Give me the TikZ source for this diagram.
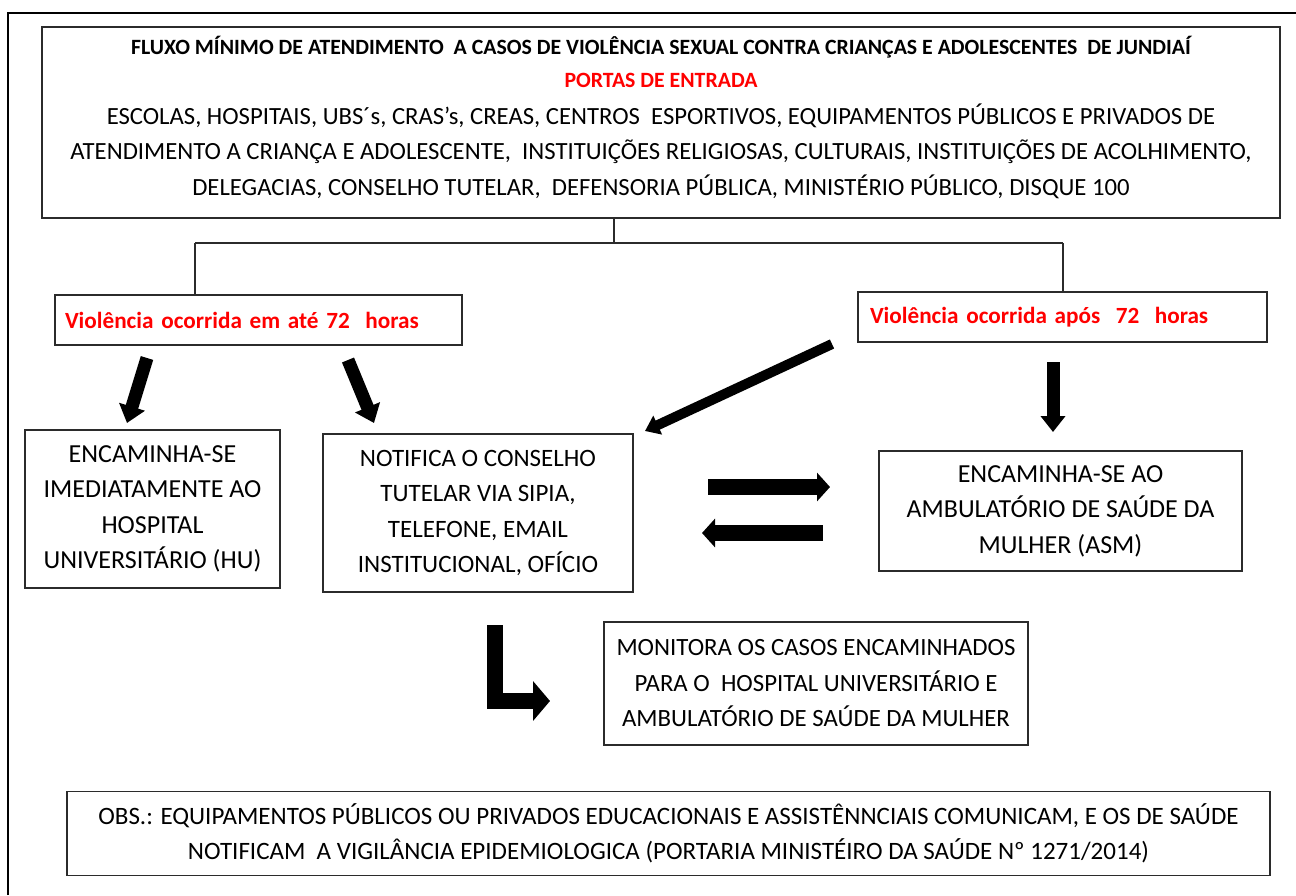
\documentclass[tikz,border=0pt]{standalone}
\usepackage{fontspec}
\setmainfont{Carlito}
\usetikzlibrary{arrows.meta}
\definecolor{boxline}{HTML}{2B2B2B}
\tikzset{
  box/.style={draw=boxline, line width=1.4pt, inner sep=0pt, align=center,
    font=\fontsize{#1}{35.5}\selectfont},
  box/.default=25,
  txt/.style={inner sep=0pt, align=center, font=\fontsize{24.7}{35.5}\selectfont},
  redbox/.style={draw=boxline, line width=1.4pt, inner ysep=0pt, align=left,
    font=\bfseries\fontsize{23.2}{26}\selectfont, text=red, minimum height=50pt},
  link/.style={draw=boxline, line width=1.2pt},
  fat/.style={line width=#1, line join=miter, line cap=butt},
}
\begin{document}
\begin{tikzpicture}[x=1pt,y=-1pt]
\useasboundingbox (0,0) rectangle (1296,895);
% outer frame
\draw[line width=2.6pt] (8,895) -- (8,13) -- (1296,13);

% top box
\node[box, minimum width=1238pt, minimum height=191pt] (top) at (661,122.5) {};
\node[txt] (toptext) at (661,117.5)
 {{\bfseries\fontsize{21.8}{22}\selectfont FLUXO MÍNIMO DE ATENDIMENTO \ A CASOS DE VIOLÊNCIA SEXUAL CONTRA CRIANÇAS E ADOLESCENTES \ DE JUNDIAÍ}\\[-2.5pt]
  {\bfseries\color{red}\fontsize{21.8}{22}\selectfont PORTAS DE ENTRADA}\\[1pt]
  ESCOLAS, HOSPITAIS, UBS´s, CRAS’s, CREAS, CENTROS \ ESPORTIVOS, EQUIPAMENTOS PÚBLICOS E PRIVADOS DE\\
  ATENDIMENTO A CRIANÇA E ADOLESCENTE, \ INSTITUIÇÕES RELIGIOSAS, CULTURAIS, INSTITUIÇÕES DE ACOLHIMENTO,\\
  DELEGACIAS, CONSELHO TUTELAR, \ DEFENSORIA PÚBLICA, MINISTÉRIO PÚBLICO, DISQUE 100};

% red boxes
\node[redbox, text width=387pt, inner xsep=10pt] (lred) at (258.5,320) {Violência ocorrida em até 72 \ horas};
\node[redbox, text width=385pt, inner xsep=12pt] (rred) at (1062.5,317) {Violência ocorrida após \ 72 \ horas};

% connectors
\coordinate (j) at (614,243);
\coordinate (jl) at (195,243);
\coordinate (jr) at (1063,243);
\draw[link] (top.south -| j) -- (j);
\draw[link] (jl) -- (jr);
\draw[link] (jl) -- (jl |- lred.north);
\draw[link] (jr) -- (jr |- rred.north);

% lower boxes
\node[box=26, minimum width=255pt, minimum height=158pt] (hu) at (152.5,509)
 {ENCAMINHA-SE\\IMEDIATAMENTE AO\\HOSPITAL\\UNIVERSITÁRIO (HU)};
\node[box=25, minimum width=310pt, minimum height=158pt] (ct) at (478,513)
 {NOTIFICA O CONSELHO\\TUTELAR VIA SIPIA,\\TELEFONE, EMAIL\\INSTITUCIONAL, OFÍCIO};
\node[box=26, minimum width=363pt, minimum height=120pt] (asm) at (1060.5,511)
 {ENCAMINHA-SE AO\\AMBULATÓRIO DE SAÚDE DA\\MULHER (ASM)};
\node[box=24.8, minimum width=424pt, minimum height=123pt] (mon) at (816,683.5)
 {MONITORA OS CASOS ENCAMINHADOS\\PARA O \ HOSPITAL UNIVERSITÁRIO E\\AMBULATÓRIO DE SAÚDE DA MULHER};
\node[box=25, minimum width=1203pt, minimum height=84pt] (obs) at (668.5,833.5)
 {OBS.: EQUIPAMENTOS PÚBLICOS OU PRIVADOS EDUCACIONAIS E ASSISTÊNNCIAIS COMUNICAM, E OS DE SAÚDE\\
  NOTIFICAM \ A VIGILÂNCIA EPIDEMIOLOGICA (PORTARIA MINISTÉIRO DA SAÚDE Nº 1271/2014)};

% block arrows
\coordinate (a1s) at (147,358); \coordinate (a1e) at (127,423);
\coordinate (a2s) at (348,360); \coordinate (a2e) at (374,423);
\coordinate (a3s) at (832,344); \coordinate (a3e) at (645,431);
\coordinate (a4s) at (1053,362); \coordinate (a4e) at (1053,432);
\coordinate (a5s) at (708,487); \coordinate (a5e) at (830,487);
\coordinate (a6s) at (823,533); \coordinate (a6e) at (702,533);
\coordinate (a7s) at (495,625); \coordinate (a7c) at (495,701); \coordinate (a7e) at (550,701);
\draw[fat=13pt, -{Triangle[length=17pt,width=26pt]}] (a1s) -- (a1e);
\draw[fat=13pt, -{Triangle[length=17pt,width=26pt]}] (a2s) -- (a2e);
\draw[fat=10pt, -{Triangle[length=14pt,width=20pt]}] (a3s) -- (a3e);
\draw[fat=13pt, -{Triangle[length=16pt,width=24pt]}] (a4s) -- (a4e);
\draw[fat=16pt, -{Triangle[length=13pt,width=28pt]}] (a5s) -- (a5e);
\draw[fat=16pt, -{Triangle[length=13pt,width=28pt]}] (a6s) -- (a6e);
\draw[fat=16pt, -{Triangle[length=17pt,width=39pt]}] (a7s) -- (a7c) -- (a7e);
\end{tikzpicture}
\end{document}
